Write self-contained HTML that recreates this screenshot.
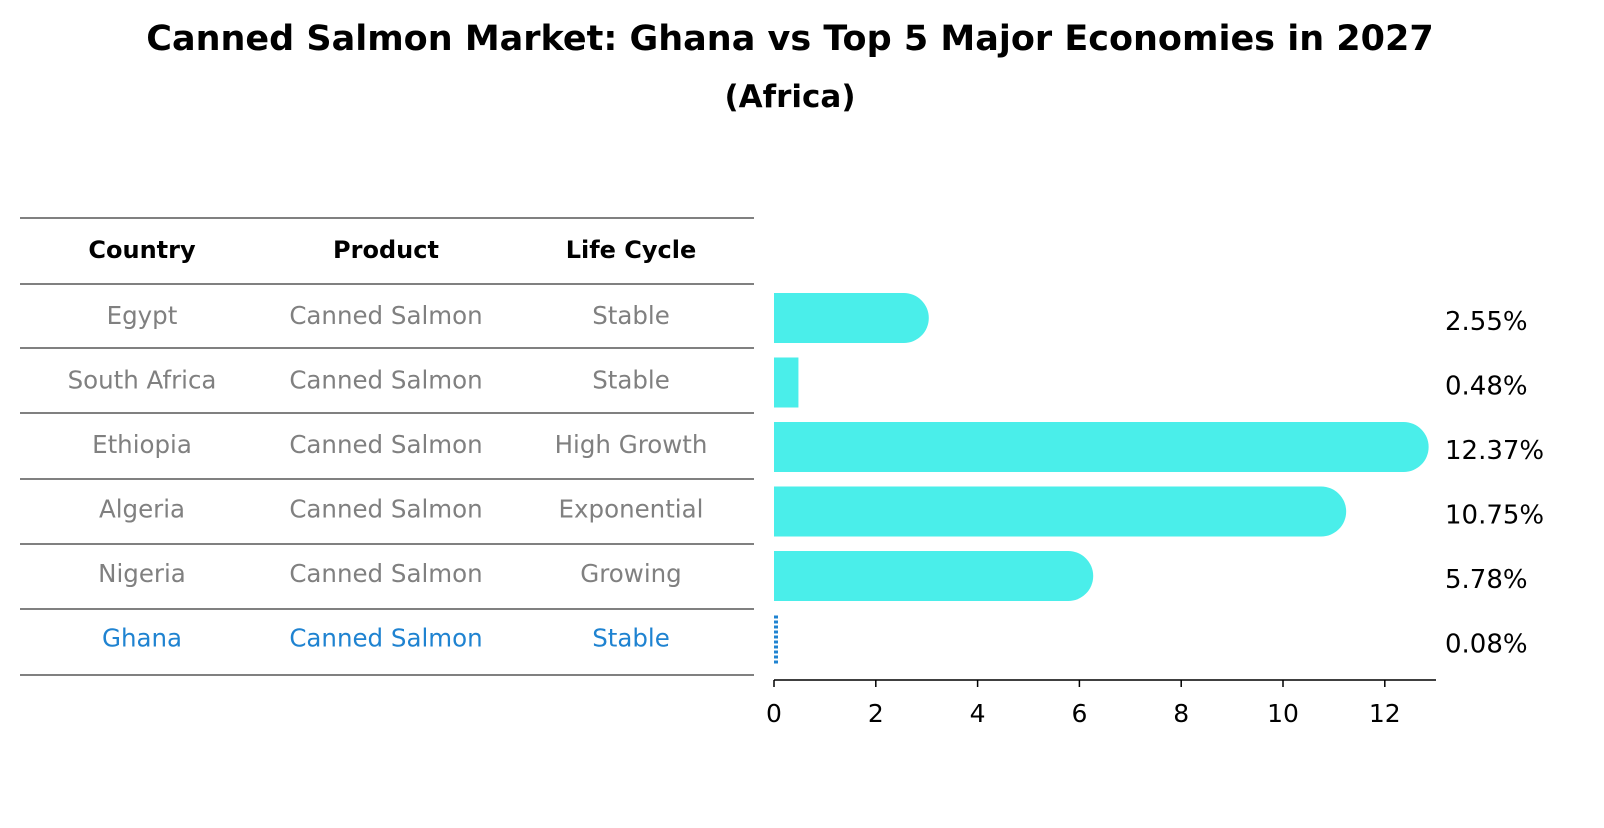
<!DOCTYPE html>
<html><head><meta charset="utf-8"><style>
body{margin:0;background:#fff;width:1604px;height:823px;overflow:hidden;font-family:"Liberation Sans","DejaVu Sans",sans-serif}
</style></head><body>
<svg width="1604" height="823" xmlns="http://www.w3.org/2000/svg" font-family="DejaVu Sans, Liberation Sans, sans-serif">
<text x="790" y="50" text-anchor="middle" font-size="35" font-weight="bold">Canned Salmon Market: Ghana vs Top 5 Major Economies in 2027</text>
<text x="790" y="107" text-anchor="middle" font-size="31" font-weight="bold">(Africa)</text>
<g id="table"></g>
<g id="bars"></g>
<g id="axis"></g>
</svg>
<script>
const countries=["Egypt","South Africa","Ethiopia","Algeria","Nigeria","Ghana"];
const products=["Canned Salmon","Canned Salmon","Canned Salmon","Canned Salmon","Canned Salmon","Canned Salmon"];
const lifeCycles=["Stable","Stable","High Growth","Exponential","Growing","Stable"];
const values=[2.55,0.48,12.37,10.75,5.78,0.08];
const valueLabels=["2.55%","0.48%","12.37%","10.75%","5.78%","0.08%"];
const ticks=[0,2,4,6,8,10,12];
const NS="http://www.w3.org/2000/svg";
function mk(tag,attrs,parent,txt){const e=document.createElementNS(NS,tag);for(const k in attrs)e.setAttribute(k,attrs[k]);if(txt!==undefined)e.textContent=txt;parent.appendChild(e);return e;}
const x=v=>774+v*50.9;
const rowY=i=>318+i*64.5;
const T=document.getElementById('table');
const lines=[218,284,348,413,479,544,609,675];
lines.forEach(y=>{const l=mk('line',{x1:20,x2:754,y1:y,y2:y,stroke:'#000','stroke-width':1},T);

});
const cols=[142,386,631];
["Country","Product","Life Cycle"].forEach((h,j)=>{const t=mk('text',{x:cols[j],y:258,'text-anchor':'middle','font-size':24,'font-weight':'bold'},T,h);

});
countries.forEach((c,i)=>{const col=i===5?'#1f83d1':'#808080';
[c,products[i],lifeCycles[i]].forEach((s,j)=>{const t=mk('text',{x:cols[j],y:rowY(i)+6,'text-anchor':'middle','font-size':24.5,fill:col},T,s);

});});
const B=document.getElementById('bars');
const h=50;
values.forEach((v,i)=>{const cy=rowY(i);let el;
if(i===5){el=mk('line',{x1:x(0)+2,x2:x(0)+2,y1:cy-h/2,y2:cy+h/2,stroke:'#1f83d1','stroke-width':4,'stroke-dasharray':'3,2'},B);}
else if(v<1){el=mk('rect',{x:x(0),y:cy-h/2,width:x(v)-x(0),height:h,fill:'#4aeeea'},B);}
else{const xe=x(v);el=mk('path',{d:`M${x(0)},${cy-h/2}H${xe}A${h/2},${h/2} 0 0 1 ${xe},${cy+h/2}H${x(0)}Z`,fill:'#4aeeea'},B);}


const t=mk('text',{x:1445,y:cy+12,'font-size':26},B,valueLabels[i]);

});
const A=document.getElementById('axis');
const al=mk('line',{x1:774,x2:1436,y1:680,y2:680,stroke:'#000','stroke-width':1.5},A);


ticks.forEach(tv=>{const tl=mk('line',{x1:x(tv),x2:x(tv),y1:680,y2:687,stroke:'#000','stroke-width':1.5},A);


const t=mk('text',{x:x(tv),y:722,'text-anchor':'middle','font-size':25},A,String(tv));

});
</script>
</body></html>
